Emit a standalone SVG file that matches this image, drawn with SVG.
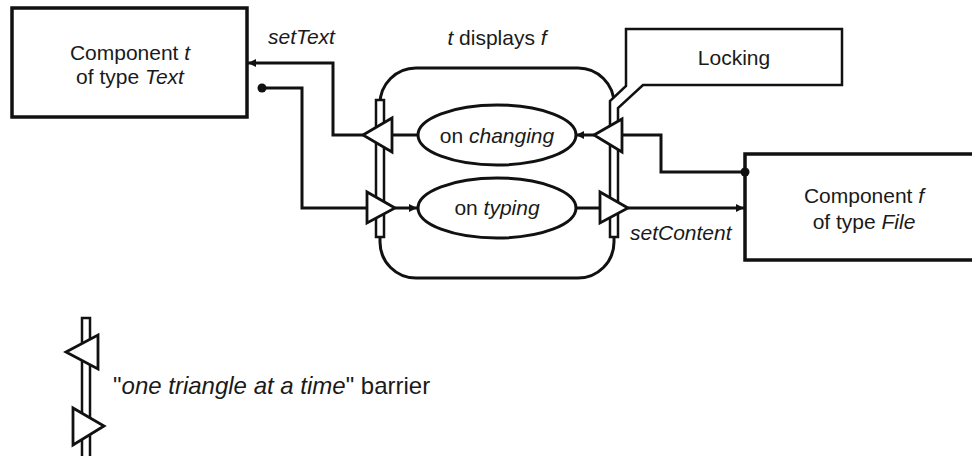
<svg xmlns="http://www.w3.org/2000/svg" width="972" height="456" viewBox="0 0 972 456">
  <style>
    text { font-family: "Liberation Sans", Arial, sans-serif; font-size: 21px; fill: #1a1a1a; }
    .it { font-style: italic; }
    .box { fill: #fff; stroke: #111; stroke-width: 3.5; }
    .wire { fill: none; stroke: #111; stroke-width: 3; }
    .bar { fill: #fff; stroke: #111; stroke-width: 2.5; stroke-linejoin: miter; }
    .tri { fill: #fff; stroke: #111; stroke-width: 2.8; stroke-linejoin: miter; }
    .ell { fill: #fff; stroke: #111; stroke-width: 3; }
  </style>
  <defs>
    <marker id="arrow" viewBox="0 0 10 10" refX="10" refY="5" markerWidth="9" markerHeight="8" markerUnits="userSpaceOnUse" orient="auto">
      <path d="M0,0 L10,5 L0,10 z" fill="#111"/>
    </marker>
  </defs>

  <!-- composite "t displays f" -->
  <g id="composite">
    <rect x="380" y="68" width="234" height="210" rx="36" ry="36" class="wire"/>
    <text x="497" y="45" text-anchor="middle"><tspan class="it">t</tspan> displays <tspan class="it">f</tspan></text>
  </g>

  <!-- component t -->
  <g id="componentT">
    <rect x="12" y="8" width="235" height="109" class="box"/>
    <text x="130" y="60" text-anchor="middle">Component <tspan class="it">t</tspan></text>
    <text x="130" y="84" text-anchor="middle">of type <tspan class="it">Text</tspan></text>
  </g>

  <!-- component f -->
  <g id="componentF">
    <rect x="745" y="154" width="250" height="106" class="box"/>
    <text x="864" y="203" text-anchor="middle">Component <tspan class="it">f</tspan></text>
    <text x="864" y="229" text-anchor="middle">of type <tspan class="it">File</tspan></text>
  </g>

  <!-- connectors -->
  <g id="connectors">
    <polyline points="363,135 333,135 333,63 248,63" class="wire" marker-end="url(#arrow)"/>
    <polyline points="262,88 302,88 302,208 368,208" class="wire"/>
    <circle cx="262" cy="88" r="4.5" fill="#111"/>
    <line x1="418" y1="135" x2="392" y2="135" class="wire"/>
    <line x1="395" y1="208" x2="417" y2="208" class="wire" marker-end="url(#arrow)"/>
    <polyline points="745,172 661,172 661,135 622,135" class="wire"/>
    <circle cx="745" cy="172" r="4.5" fill="#111"/>
    <line x1="594" y1="135" x2="576" y2="135" class="wire" marker-end="url(#arrow)"/>
    <line x1="576" y1="208" x2="600" y2="208" class="wire"/>
    <line x1="628" y1="208" x2="744" y2="208" class="wire" marker-end="url(#arrow)"/>
    <text x="268" y="44" class="it">setText</text>
    <text x="630" y="240" class="it">setContent</text>
  </g>

  <!-- left barrier -->
  <g id="barrierLeft">
    <rect x="376" y="100" width="8" height="137" class="bar"/>
    <polygon points="363,135 392,118 392,152" class="tri"/>
    <polygon points="367,192 367,223 395,208" class="tri"/>
  </g>

  <!-- right barrier joined to the Locking box -->
  <g id="locking">
    <path d="M610,237 L610,101 L626,86 L626,29 L842,29 L842,85 L643,85 L618,108 L618,237 Z" class="bar" stroke-width="3"/>
    <text x="734" y="65" text-anchor="middle">Locking</text>
  </g>
  <g id="barrierRight">
    <polygon points="594,135 622,119 622,152" class="tri"/>
    <polygon points="600,192 600,223 628,208" class="tri"/>
  </g>

  <!-- handlers -->
  <g id="onChanging">
    <ellipse cx="497" cy="135" rx="79" ry="30" class="ell"/>
    <text x="497" y="143" text-anchor="middle">on <tspan class="it">changing</tspan></text>
  </g>
  <g id="onTyping">
    <ellipse cx="497" cy="208" rx="79" ry="30" class="ell"/>
    <text x="497" y="215" text-anchor="middle">on <tspan class="it">typing</tspan></text>
  </g>

  <!-- legend -->
  <g id="legend">
    <rect x="82" y="318" width="8" height="145" class="bar"/>
    <polygon points="66,352 98,335 98,369" class="tri"/>
    <polygon points="73,408 73,445 104,426" class="tri"/>
    <text x="113" y="394" style="font-size:24px">"<tspan class="it">one triangle at a time</tspan>" barrier</text>
  </g>
</svg>
